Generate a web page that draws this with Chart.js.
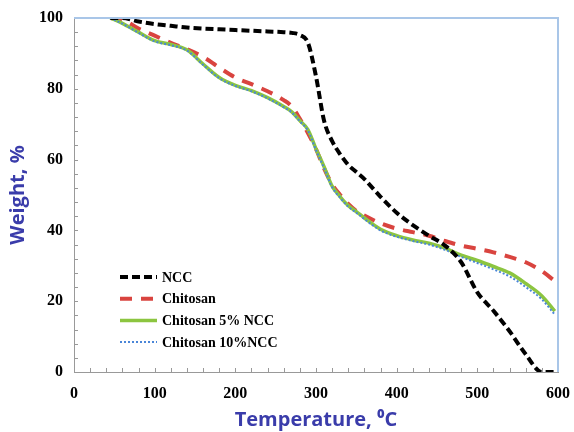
<!DOCTYPE html>
<html>
<head>
    <title>TGA curves</title>
    <script src="https://cdn.jsdelivr.net/npm/chart.js"></script>
    <style>
        body { margin: 0; background: #fff; }
        #wrap { width: 574px; height: 432px; }
    </style>
</head>
<body>
    <div id="wrap"><canvas id="myChart" width="574" height="432"></canvas></div>

    <script>
        // temperatures (deg C) shared by all four curves
        var temps = [45, 60, 80, 100, 120, 140, 160, 180, 200, 220, 240, 260, 270, 280, 290, 300, 310, 320, 330, 340, 350, 360, 380, 400, 420, 440, 460, 480, 500, 520, 540, 560, 580, 596];

        var ncc        = [100, 100, 99, 98.3, 97.8, 97.3, 97, 96.8, 96.6, 96.4, 96.2, 96, 95.8, 95.2, 93, 83.5, 71, 65.2, 61.5, 58.5, 56.5, 54.5, 49.5, 45, 41.5, 38.5, 35.7, 31, 22.5, 17.3, 11.5, 5, 0, 0];
        var chitosan   = [100, 99.6, 97, 95, 93, 91.2, 89, 86, 83.2, 81.3, 79.3, 76.8, 75, 71.5, 67.5, 63, 57.5, 53, 50, 47.5, 45.5, 44.2, 42, 40.5, 39.5, 38.5, 37, 35.7, 34.8, 33.8, 32.5, 31, 28.5, 25.7];
        var chit5ncc   = [100, 98.5, 96, 93.6, 92.5, 91, 87, 83.2, 81, 79.5, 77.5, 75, 73.5, 71, 68.5, 63, 58, 52.5, 49.5, 47, 45.3, 43.5, 40.3, 38.5, 37.3, 36.4, 35, 33, 31.5, 29.8, 28, 25, 21.5, 17.2];
        var chit10ncc  = [100, 98.4, 95.8, 93.4, 92.3, 90.8, 86.8, 83, 80.8, 79.3, 77.3, 74.8, 73.3, 70.8, 68.2, 62.7, 57.6, 52.2, 49.2, 46.7, 45, 43.2, 40, 38.2, 37, 36, 34.5, 32.5, 30.8, 29, 27, 24, 20.5, 16.2];

        var seriesNames = ['NCC', 'Chitosan', 'Chitosan 5% NCC', 'Chitosan 10%NCC'];
        var xTicks = [0, 100, 200, 300, 400, 500, 600];
        var yTicks = [0, 20, 40, 60, 80, 100];

        function pts(vals) {
            return vals.map(function (v, i) { return { x: temps[i], y: v }; });
        }

        var serifBold = { family: '"Liberation Serif", "Times New Roman", serif', weight: 'bold', size: 16 };
        var titleFont = { family: '"Open Sans", "DejaVu Sans", sans-serif', weight: 'bold', size: 20 };
        var titleColor = '#3a3caa';

        // legend drawn inside the plot, plus the blue frame and inward minor ticks
        var extras = {
            id: 'extras',
            afterDraw: function (chart) {
                var c = chart.ctx, a = chart.chartArea;
                var xs = chart.scales.x, ys = chart.scales.y;
                c.save();
                c.strokeStyle = '#a9c6e8';
                c.lineWidth = 2;
                c.beginPath();
                c.moveTo(a.left, a.top);
                c.lineTo(a.right, a.top);
                c.lineTo(a.right, a.bottom);
                c.stroke();

                c.strokeStyle = '#999';
                c.lineWidth = 1;
                c.beginPath();
                for (var t = 20; t < 600; t += 20) {
                    var px = Math.round(xs.getPixelForValue(t)) + 0.5;
                    c.moveTo(px, a.bottom);
                    c.lineTo(px, a.bottom - 4);
                }
                for (var w = 4; w < 100; w += 4) {
                    var py = Math.round(ys.getPixelForValue(w)) + 0.5;
                    c.moveTo(a.left, py);
                    c.lineTo(a.left + 4, py);
                }
                c.stroke();

                // legend
                var lx = 120, ly = 277, gap = 21.7;
                c.font = 'bold 14px "Liberation Serif", "Times New Roman", serif';
                c.textBaseline = 'middle';
                chart.data.datasets.forEach(function (ds, i) {
                    var y = ly + i * gap;
                    c.strokeStyle = ds.borderColor;
                    c.lineWidth = ds.borderWidth;
                    c.setLineDash(ds.borderDash || []);
                    c.beginPath();
                    c.moveTo(lx, y);
                    c.lineTo(lx + 37, y);
                    c.stroke();
                    c.setLineDash([]);
                    c.fillStyle = '#000';
                    c.fillText(ds.label, lx + 42, y + 1);
                });
                c.restore();
            }
        };

        var ctx = document.getElementById('myChart').getContext('2d');
        var myChart = new Chart(ctx, {
            type: 'line',
            data: {
                datasets: [{
                    label: seriesNames[0],
                    data: pts(ncc),
                    borderColor: '#000000',
                    borderWidth: 4,
                    borderDash: [8, 4],
                    order: 0
                }, {
                    label: seriesNames[1],
                    data: pts(chitosan),
                    borderColor: '#d9443f',
                    borderWidth: 4,
                    borderDash: [12, 9],
                    order: 3
                }, {
                    label: seriesNames[2],
                    data: pts(chit5ncc),
                    borderColor: '#8cc540',
                    borderWidth: 3.5,
                    order: 2
                }, {
                    label: seriesNames[3],
                    data: pts(chit10ncc),
                    borderColor: '#4a86d8',
                    borderWidth: 2,
                    borderDash: [2, 2],
                    order: 1
                }]
            },
            options: {
                responsive: false,
                animation: false,
                layout: { padding: { top: 18, right: 16, left: 6, bottom: 0 } },
                elements: {
                    point: { radius: 0 },
                    line: { fill: false, cubicInterpolationMode: 'monotone' }
                },
                plugins: {
                    legend: { display: false },
                    tooltip: { enabled: false }
                },
                scales: {
                    x: {
                        type: 'linear',
                        position: 'bottom',
                        min: 0,
                        max: 600,
                        afterBuildTicks: function (s) { s.ticks = xTicks.map(function (v) { return { value: v }; }); },
                        afterFit: function (s) { s.height = 60; },
                        grid: { display: false },
                        border: { color: '#999', width: 1 },
                        ticks: { font: serifBold, color: '#000', padding: 4, maxRotation: 0 },
                        title: { display: true, text: 'Temperature, \u2070C', font: titleFont, color: titleColor, padding: { top: 4, bottom: 0 } }
                    },
                    y: {
                        min: 0,
                        max: 100,
                        afterBuildTicks: function (s) { s.ticks = yTicks.map(function (v) { return { value: v }; }); },
                        afterFit: function (s) { s.width = 68; },
                        grid: { display: false },
                        border: { color: '#999', width: 1 },
                        ticks: { font: serifBold, color: '#000', padding: 3 },
                        title: { display: true, text: 'Weight, %', font: titleFont, color: titleColor, padding: { top: 0, bottom: 4 } }
                    }
                }
            },
            plugins: [extras]
        });
    </script>
</body>
</html>
